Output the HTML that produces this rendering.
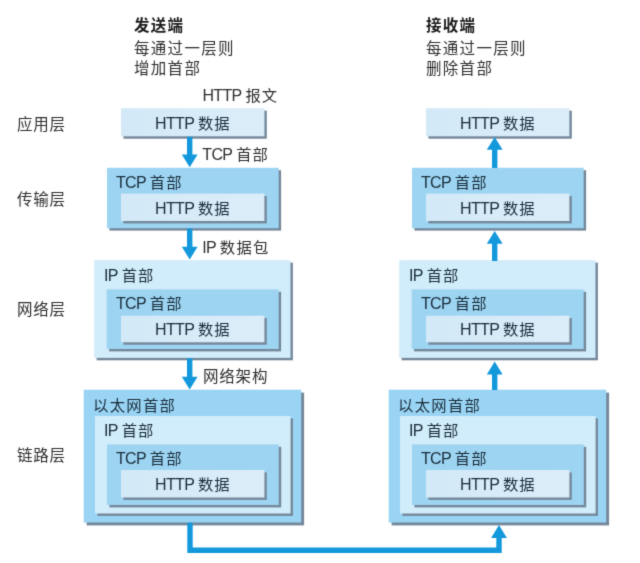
<!DOCTYPE html>
<html lang="zh-CN"><head><meta charset="utf-8"><title>HTTP</title><style>
html,body{margin:0;padding:0;background:#fff;}
body{width:640px;height:563px;position:relative;overflow:hidden;font-family:"Liberation Sans","Noto Sans CJK SC",sans-serif;color:#333;}
svg{position:absolute;left:0;top:0;}
#pg{position:absolute;left:0;top:0;width:640px;height:563px;background:#fff;filter:url(#soft);}
#tx{position:absolute;left:0;top:0;width:640px;height:563px;}
.x{position:absolute;white-space:nowrap;font-size:16px;line-height:20px;color:#182c3a;}
.o{color:#2e2e2e;}
.l{letter-spacing:-0.65px;word-spacing:0.3px;}
.c{font-size:15.3px;letter-spacing:1.05px;}
.hd .c{font-size:15.5px;letter-spacing:1.3px;}
.sd .c{font-size:15.5px;letter-spacing:0.8px;}
.et .c{letter-spacing:1.35px;}
.bd{font-weight:bold;color:#1a1a1a;}
</style></head><body>
<svg width="0" height="0" style="position:absolute;width:0;height:0"><defs><filter id="soft" x="0" y="0" width="100%" height="100%" color-interpolation-filters="sRGB"><feConvolveMatrix order="3" kernelMatrix="0.0169 0.0962 0.0169 0.0962 0.5476 0.0962 0.0169 0.0962 0.0169" edgeMode="duplicate" preserveAlpha="true"/></filter></defs></svg>
<div id="pg">
<svg width="640" height="563" viewBox="0 0 640 563"><defs><linearGradient id="gh" x1="0" y1="0" x2="1" y2="0"><stop offset="0" stop-color="#d3e9f7"/><stop offset="1" stop-color="#dbedf9"/></linearGradient></defs>
<rect x="123.4" y="110.6" width="143.4" height="28.1" fill="#74889a"/>
<rect x="121.0" y="108.2" width="143.4" height="28.1" fill="url(#gh)"/>
<rect x="109.4" y="170.2" width="171.7" height="60.4" fill="#74889a"/>
<rect x="107.0" y="167.8" width="171.7" height="60.4" fill="#9dd4f2"/>
<rect x="123.4" y="196.0" width="143.4" height="27.4" fill="#74889a"/>
<rect x="121.0" y="193.6" width="143.4" height="27.4" fill="url(#gh)"/>
<rect x="96.6" y="262.6" width="196.3" height="97.7" fill="#74889a"/>
<rect x="94.2" y="260.2" width="196.3" height="97.7" fill="#d1ecfa"/>
<rect x="109.1" y="291.8" width="172.0" height="59.6" fill="#74889a"/>
<rect x="106.7" y="289.4" width="172.0" height="59.6" fill="#9dd4f2"/>
<rect x="123.4" y="318.1" width="143.4" height="26.6" fill="#74889a"/>
<rect x="121.0" y="315.7" width="143.4" height="26.6" fill="url(#gh)"/>
<rect x="86.6" y="392.6" width="217.5" height="132.8" fill="#74889a"/>
<rect x="83.7" y="389.7" width="217.5" height="132.8" fill="#9ad4f4"/>
<rect x="97.4" y="418.4" width="195.6" height="97.5" fill="#74889a"/>
<rect x="95.0" y="416.0" width="195.6" height="97.5" fill="#d1ecfa"/>
<rect x="109.4" y="446.8" width="171.8" height="60.6" fill="#74889a"/>
<rect x="107.0" y="444.4" width="171.8" height="60.6" fill="#9dd4f2"/>
<rect x="123.4" y="472.4" width="143.4" height="27.5" fill="#74889a"/>
<rect x="121.0" y="470.0" width="143.4" height="27.5" fill="url(#gh)"/>
<rect x="428.4" y="110.6" width="143.4" height="28.1" fill="#74889a"/>
<rect x="426.0" y="108.2" width="143.4" height="28.1" fill="url(#gh)"/>
<rect x="414.4" y="170.2" width="171.7" height="60.4" fill="#74889a"/>
<rect x="412.0" y="167.8" width="171.7" height="60.4" fill="#9dd4f2"/>
<rect x="428.4" y="196.0" width="143.4" height="27.4" fill="#74889a"/>
<rect x="426.0" y="193.6" width="143.4" height="27.4" fill="url(#gh)"/>
<rect x="401.6" y="262.6" width="196.3" height="97.7" fill="#74889a"/>
<rect x="399.2" y="260.2" width="196.3" height="97.7" fill="#d1ecfa"/>
<rect x="414.1" y="291.8" width="172.0" height="59.6" fill="#74889a"/>
<rect x="411.7" y="289.4" width="172.0" height="59.6" fill="#9dd4f2"/>
<rect x="428.4" y="318.1" width="143.4" height="26.6" fill="#74889a"/>
<rect x="426.0" y="315.7" width="143.4" height="26.6" fill="url(#gh)"/>
<rect x="391.6" y="392.6" width="217.5" height="132.8" fill="#74889a"/>
<rect x="388.7" y="389.7" width="217.5" height="132.8" fill="#9ad4f4"/>
<rect x="402.4" y="418.4" width="195.6" height="97.5" fill="#74889a"/>
<rect x="400.0" y="416.0" width="195.6" height="97.5" fill="#d1ecfa"/>
<rect x="414.4" y="446.8" width="171.8" height="60.6" fill="#74889a"/>
<rect x="412.0" y="444.4" width="171.8" height="60.6" fill="#9dd4f2"/>
<rect x="428.4" y="472.4" width="143.4" height="27.5" fill="#74889a"/>
<rect x="426.0" y="470.0" width="143.4" height="27.5" fill="url(#gh)"/>
<path d="M187.0 136.8 H192.4 V154.5 H197.6 L189.7 167.3 L181.8 154.5 H187.0 Z" fill="#1398dc"/>
<path d="M187.0 228.6 H192.4 V246.7 H197.6 L189.7 259.5 L181.8 246.7 H187.0 Z" fill="#1398dc"/>
<path d="M187.0 358.2 H192.4 V376.7 H197.6 L189.7 389.5 L181.8 376.7 H187.0 Z" fill="#1398dc"/>
<path d="M492.0 168 H497.4 V149.8 H502.6 L494.7 137 L486.8 149.8 H492.0 Z" fill="#1398dc"/>
<path d="M492.0 261 H497.4 V243.8 H502.6 L494.7 231 L486.8 243.8 H492.0 Z" fill="#1398dc"/>
<path d="M492.0 390 H497.4 V374.4 H502.6 L494.7 361.6 L486.8 374.4 H492.0 Z" fill="#1398dc"/>
<path d="M190 522.8 V550.2 H499 V536" fill="none" stroke="#1398dc" stroke-width="5.4"/>
<path d="M491.1 538 H506.9 L499 525 Z" fill="#1398dc"/>
</svg>
<div id="tx">
<div class="x" style="left:155px;top:113.5px"><span class="l">HTTP </span><span class="c">数据</span></div>
<div class="x" style="left:116px;top:172.7px"><span class="l">TCP </span><span class="c">首部</span></div>
<div class="x" style="left:155px;top:199px"><span class="l">HTTP </span><span class="c">数据</span></div>
<div class="x" style="left:104px;top:265.5px"><span class="l">IP </span><span class="c">首部</span></div>
<div class="x" style="left:116px;top:293.8px"><span class="l">TCP </span><span class="c">首部</span></div>
<div class="x" style="left:155px;top:319.6px"><span class="l">HTTP </span><span class="c">数据</span></div>
<div class="x et" style="left:93px;top:395.5px"><span class="c">以太网首部</span></div>
<div class="x" style="left:104px;top:421px"><span class="l">IP </span><span class="c">首部</span></div>
<div class="x" style="left:116px;top:449px"><span class="l">TCP </span><span class="c">首部</span></div>
<div class="x" style="left:155px;top:474.5px"><span class="l">HTTP </span><span class="c">数据</span></div>
<div class="x" style="left:460px;top:113.5px"><span class="l">HTTP </span><span class="c">数据</span></div>
<div class="x" style="left:421px;top:172.7px"><span class="l">TCP </span><span class="c">首部</span></div>
<div class="x" style="left:460px;top:199px"><span class="l">HTTP </span><span class="c">数据</span></div>
<div class="x" style="left:409px;top:265.5px"><span class="l">IP </span><span class="c">首部</span></div>
<div class="x" style="left:421px;top:293.8px"><span class="l">TCP </span><span class="c">首部</span></div>
<div class="x" style="left:460px;top:319.6px"><span class="l">HTTP </span><span class="c">数据</span></div>
<div class="x et" style="left:398px;top:395.5px"><span class="c">以太网首部</span></div>
<div class="x" style="left:409px;top:421px"><span class="l">IP </span><span class="c">首部</span></div>
<div class="x" style="left:421px;top:449px"><span class="l">TCP </span><span class="c">首部</span></div>
<div class="x" style="left:460px;top:474.5px"><span class="l">HTTP </span><span class="c">数据</span></div>
<div class="x bd hd o" style="left:134px;top:16px"><span class="c">发送端</span></div>
<div class="x hd o" style="left:134px;top:39px"><span class="c">每通过一层则</span></div>
<div class="x hd o" style="left:134px;top:59px"><span class="c">增加首部</span></div>
<div class="x bd hd o" style="left:426px;top:16px"><span class="c">接收端</span></div>
<div class="x hd o" style="left:426px;top:39px"><span class="c">每通过一层则</span></div>
<div class="x hd o" style="left:426px;top:59px"><span class="c">删除首部</span></div>
<div class="x o" style="left:202.4px;top:86px"><span class="l">HTTP </span><span class="c">报文</span></div>
<div class="x o" style="left:202.3px;top:145.4px"><span class="l">TCP </span><span class="c">首部</span></div>
<div class="x et o" style="left:202.2px;top:238px"><span class="l">IP </span><span class="c">数据包</span></div>
<div class="x sd o" style="left:203px;top:367px"><span class="c">网络架构</span></div>
<div class="x sd o" style="left:17px;top:115px"><span class="c">应用层</span></div>
<div class="x sd o" style="left:17px;top:189.5px"><span class="c">传输层</span></div>
<div class="x sd o" style="left:17px;top:300px"><span class="c">网络层</span></div>
<div class="x sd o" style="left:17px;top:445.6px"><span class="c">链路层</span></div>
</div>
</div>
</body></html>
